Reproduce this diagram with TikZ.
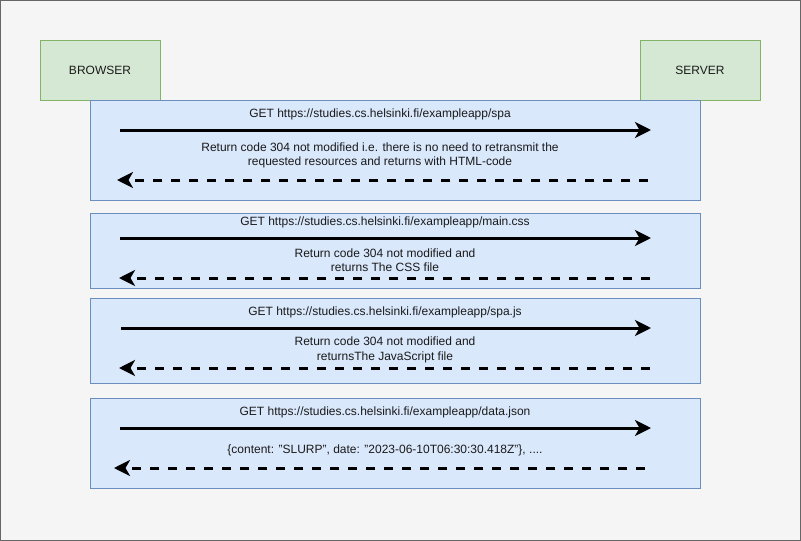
\documentclass[tikz,border=0pt]{standalone}
\usepackage{fontspec}
\setmainfont{Liberation Sans}
\usetikzlibrary{arrows.meta}
\definecolor{bgc}{HTML}{F5F5F5}
\definecolor{bgline}{HTML}{666666}
\definecolor{gfill}{HTML}{D5E8D4}
\definecolor{gline}{HTML}{82B366}
\definecolor{bfill}{HTML}{DAE8FC}
\definecolor{bline}{HTML}{6C8EBF}
\definecolor{txt}{HTML}{1A1A1A}
\tikzset{
  actor/.style={draw=gline, fill=gfill, line width=1pt, minimum width=120pt, minimum height=60pt, inner sep=0pt, text=txt, font=\fontsize{12}{14}\selectfont},
  group/.style={draw=bline, fill=bfill, line width=1pt, minimum width=610pt, inner sep=0pt},
  lbl/.style={text=txt, font=\fontsize{12}{14.5}\selectfont, align=center, inner sep=0pt},
  req/.style={line width=3pt, -{Stealth[length=16pt,width=16pt,inset=4.5pt]}},
  resp/.style={line width=3pt, dash pattern=on 9pt off 9pt, -{Stealth[length=16pt,width=16pt,inset=4.5pt]}},
}
\begin{document}
\begin{tikzpicture}[x=1pt,y=-1pt]
\useasboundingbox (0,0) rectangle (801,541);
\draw[fill=bgc, draw=bgline, line width=1pt] (0.5,0.5) rectangle (800.5,540.5);
\node[actor] (browser) at (100,70) {BROWSER};
\node[actor] (server) at (700,70) {SERVER};
% group boxes
\node[group, minimum height=100pt] (g1) at (395,150) {};
\node[group, minimum height=75pt] (g2) at (395,250.5) {};
\node[group, minimum height=85pt] (g3) at (395,340.5) {};
\node[group, minimum height=90pt] (g4) at (395,443) {};
% group 1
\node[lbl] (t1) at (380,114.5) {GET https://studies.cs.helsinki.fi/exampleapp/spa};
\coordinate (a1s) at (120,130); \coordinate (a1e) at (651,130);
\draw[req] (a1s) -- (a1e);
\node[lbl] (r1) at (380,155.5) {Return code 304 not modified i.e. there is no need to retransmit the\\requested resources and returns with HTML-code};
\coordinate (b1s) at (648,180); \coordinate (b1e) at (117,180);
\draw[resp] (b1s) -- (b1e);
% group 2
\node[lbl] (t2) at (385,222.5) {GET https://studies.cs.helsinki.fi/exampleapp/main.css};
\coordinate (a2s) at (120,238); \coordinate (a2e) at (651,238);
\draw[req] (a2s) -- (a2e);
\node[lbl] (r2) at (385,260) {Return code 304 not modified and\\returns The CSS file};
\coordinate (b2s) at (650,278); \coordinate (b2e) at (119,278);
\draw[resp] (b2s) -- (b2e);
% group 3
\node[lbl] (t3) at (385,312.5) {GET https://studies.cs.helsinki.fi/exampleapp/spa.js};
\coordinate (a3s) at (121,328); \coordinate (a3e) at (651,328);
\draw[req] (a3s) -- (a3e);
\node[lbl] (r3) at (385,350) {Return code 304 not modified and\\returnsThe JavaScript file};
\coordinate (b3s) at (650,368); \coordinate (b3e) at (119,368);
\draw[resp] (b3s) -- (b3e);
% group 4
\node[lbl] (t4) at (385,412.5) {GET https://studies.cs.helsinki.fi/exampleapp/data.json};
\coordinate (a4s) at (120,428); \coordinate (a4e) at (651,428);
\draw[req] (a4s) -- (a4e);
\node[lbl] (r4) at (385,450.5) {\{content: "SLURP", date: "2023-06-10T06:30:30.418Z"\}, ....};
\coordinate (b4s) at (645,468); \coordinate (b4e) at (114,468);
\draw[resp] (b4s) -- (b4e);
\end{tikzpicture}
\end{document}
